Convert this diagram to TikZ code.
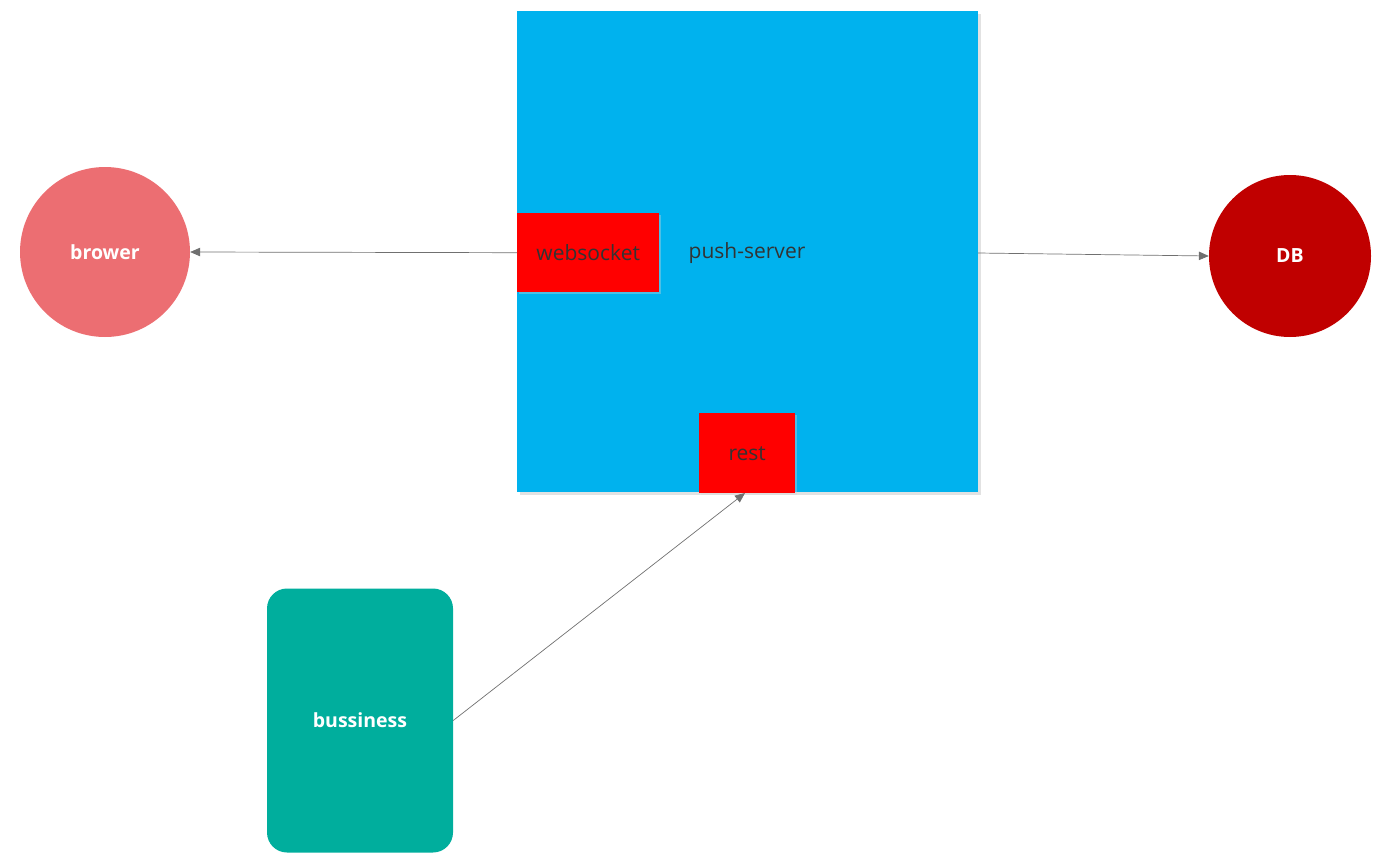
\documentclass[tikz,border=0pt]{standalone}
\usepackage{fontspec}
\setmainfont{Open Sans}
\usetikzlibrary{arrows.meta}
\definecolor{srvblue}{HTML}{00B2EE}
\definecolor{wsred}{HTML}{FF0000}
\definecolor{brpink}{HTML}{EC6E72}
\definecolor{dbred}{HTML}{C00000}
\definecolor{bsteal}{HTML}{00AE9D}
\definecolor{txtdark}{HTML}{333333}
\definecolor{linegray}{HTML}{707070}
\definecolor{shadowgray}{HTML}{E2E2E2}
\tikzset{
  darklabel/.style={font=\fontsize{21}{24}\selectfont, text=txtdark},
  whitelabel/.style={font=\fontsize{19.5}{22}\selectfont\bfseries, text=white},
  redbox/.style={fill=wsred, draw=none, inner sep=0pt, darklabel},
  bigcircle/.style={circle, draw=none, inner sep=0pt, whitelabel},
  conn/.style={draw=linegray, line width=0.7pt, -{Triangle[length=10pt,width=8.5pt]}},
}
\begin{document}
\begin{tikzpicture}[x=1pt,y=-1pt]
\useasboundingbox (0,0) rectangle (1392,862);
% shadow of server box
\fill[shadowgray] (520,14) rectangle (981,495);
\node[fill=srvblue, minimum width=461pt, minimum height=481pt, inner sep=0pt, anchor=north west] (push) at (517,11) {};
\node[darklabel] (pushlbl) at (747,253) {push-server};
% websocket
\fill[black!15, opacity=0.35] (519,215) rectangle (661,294);
\node[redbox, minimum width=142pt, minimum height=79pt, anchor=north west] (ws) at (517,213) {};
\node[darklabel] (wslbl) at (ws.center) {websocket};
% rest
\fill[black!15, opacity=0.35] (701,415) rectangle (797,495);
\node[redbox, minimum width=96pt, minimum height=80pt, anchor=north west] (rest) at (699,413) {};
\node[darklabel] (restlbl) at (rest.center) {rest};
% circles
\node[bigcircle, fill=brpink, minimum size=170pt] (brower) at (105,252) {brower};
\node[bigcircle, fill=dbred, minimum size=162pt] (db) at (1290,256) {DB};
% bussiness
\node[fill=bsteal, rounded corners=20pt, minimum width=186pt, minimum height=264pt, inner sep=0pt, whitelabel] (buss) at (360,720.5) {bussiness};
% connectors
\draw[conn] (ws.west) -- (brower.east);
\coordinate (pushE) at (978,253);
\draw[conn] (pushE) -- (db.west);
\coordinate (restS) at (745,493);
\draw[conn] (buss.east) -- (restS);
\end{tikzpicture}
\end{document}
